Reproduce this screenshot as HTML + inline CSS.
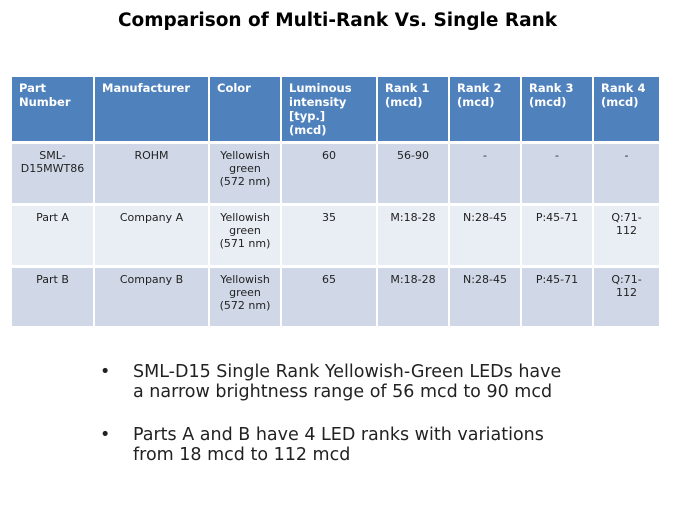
<!DOCTYPE html>
<html><head><style>
body{margin:0;width:675px;height:506px;background:#fff;position:relative;overflow:hidden;font-family:"DejaVu Sans","Liberation Sans",sans-serif}
.t{position:absolute;left:0;width:675px;top:10px;text-align:center;font:bold 18.5px "DejaVu Sans",sans-serif;color:#000}
.c{position:absolute;box-sizing:border-box;padding:5px 4px 3px;font-size:11px;line-height:13px;color:#222}
.h{background:#4f81bd;color:#fff;font-weight:bold;font-size:11.5px;line-height:14px;padding:4px 7px}
.r1,.r3{background:#d0d8e8;text-align:center}
.r2{background:#e9edf4;text-align:center}
.b{position:absolute;left:100px;font:17.5px "DejaVu Sans",sans-serif;color:#222;line-height:20px}
.b span{position:absolute;left:0}
.b div{margin-left:33px}
</style></head><body>
<div class="t">Comparison of Multi-Rank Vs. Single Rank</div>
<div id="tb"></div>
<script>
var L=[12,95,210,282,378,450,522,594,661];
var R=[[77,141],[144,203],[206,265],[268,326]];
var d=[["Part<br>Number","Manufacturer","Color","Luminous<br>intensity<br>[typ.]<br>(mcd)","Rank 1<br>(mcd)","Rank 2<br>(mcd)","Rank 3<br>(mcd)","Rank 4<br>(mcd)"],
["SML-<br>D15MWT86","ROHM","Yellowish<br>green<br>(572 nm)","60","56-90","-","-","-"],
["Part A","Company A","Yellowish<br>green<br>(571 nm)","35","M:18-28","N:28-45","P:45-71","Q:71-<br>112"],
["Part B","Company B","Yellowish<br>green<br>(572 nm)","65","M:18-28","N:28-45","P:45-71","Q:71-<br>112"]];
var h="";
for(var r=0;r<4;r++)for(var c=0;c<8;c++){
var cls=r==0?"h":"r"+r;
h+='<div class="c '+cls+'" style="left:'+L[c]+'px;top:'+R[r][0]+'px;width:'+(L[c+1]-L[c]-2)+'px;height:'+(R[r][1]-R[r][0])+'px">'+d[r][c]+'</div>';}
document.getElementById("tb").innerHTML=h;
</script>
<div class="b" style="top:362px"><span>•</span><div>SML-D15 Single Rank Yellowish-Green LEDs have<br>a narrow brightness range of 56 mcd to 90 mcd</div></div>
<div class="b" style="top:425px"><span>•</span><div>Parts A and B have 4 LED ranks with variations<br>from 18 mcd to 112 mcd</div></div>
</body></html>
